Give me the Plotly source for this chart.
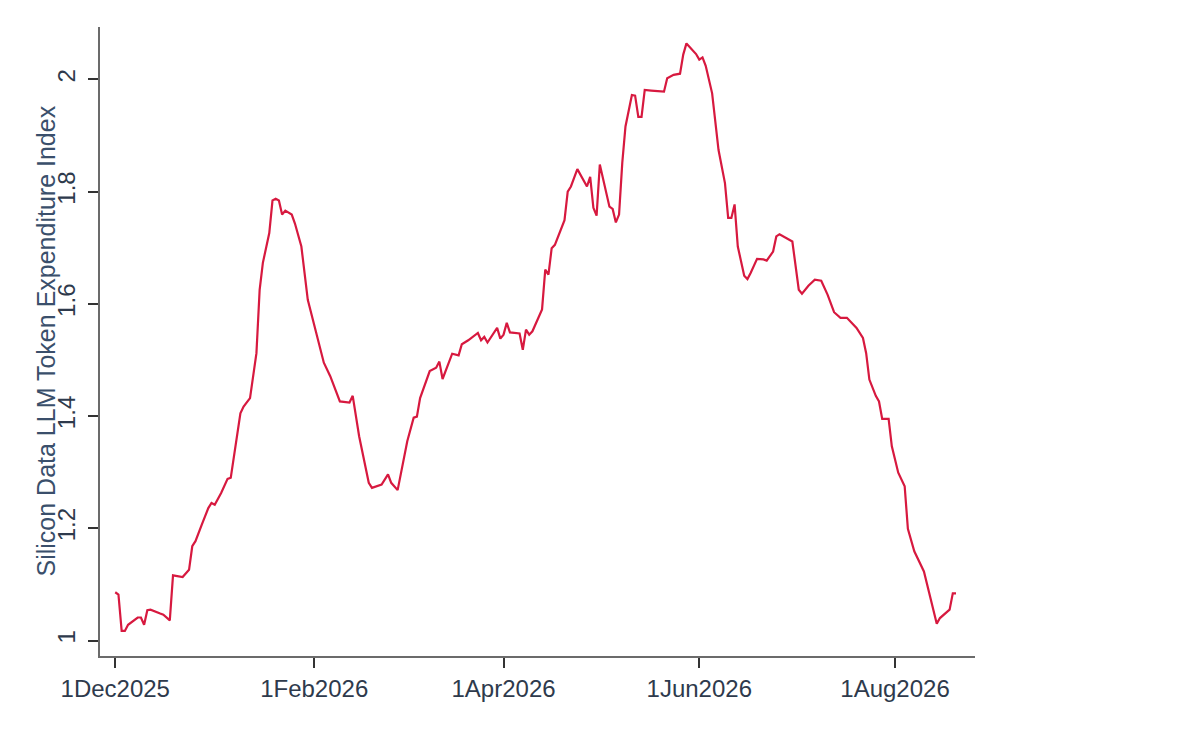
import plotly.graph_objs as go

# daily index readings
dates = [
    "2025-12-01", "2025-12-02", "2025-12-03", "2025-12-04", "2025-12-05", "2025-12-08",
    "2025-12-09", "2025-12-10", "2025-12-11", "2025-12-12", "2025-12-15", "2025-12-16",
    "2025-12-18", "2025-12-19", "2025-12-22", "2025-12-24", "2025-12-25", "2025-12-26",
    "2025-12-28", "2025-12-30", "2025-12-31", "2026-01-01", "2026-01-03", "2026-01-05",
    "2026-01-06", "2026-01-07", "2026-01-09", "2026-01-10", "2026-01-12", "2026-01-14",
    "2026-01-15", "2026-01-16", "2026-01-18", "2026-01-19", "2026-01-20", "2026-01-21",
    "2026-01-22", "2026-01-23", "2026-01-25", "2026-01-26", "2026-01-28", "2026-01-30",
    "2026-02-01", "2026-02-04", "2026-02-06", "2026-02-09", "2026-02-12", "2026-02-13",
    "2026-02-15", "2026-02-18", "2026-02-19", "2026-02-22", "2026-02-24", "2026-02-25",
    "2026-02-27", "2026-03-02", "2026-03-04", "2026-03-05", "2026-03-06", "2026-03-09",
    "2026-03-11", "2026-03-12", "2026-03-13", "2026-03-16", "2026-03-18", "2026-03-19",
    "2026-03-21", "2026-03-24", "2026-03-25", "2026-03-26", "2026-03-27", "2026-03-30",
    "2026-03-31", "2026-04-01", "2026-04-02", "2026-04-03", "2026-04-06", "2026-04-07",
    "2026-04-08", "2026-04-09", "2026-04-10", "2026-04-12", "2026-04-13", "2026-04-14",
    "2026-04-15", "2026-04-16", "2026-04-17", "2026-04-20", "2026-04-21", "2026-04-22",
    "2026-04-24", "2026-04-27", "2026-04-28", "2026-04-29", "2026-04-30", "2026-05-01",
    "2026-05-04", "2026-05-05", "2026-05-06", "2026-05-07", "2026-05-08", "2026-05-09",
    "2026-05-11", "2026-05-12", "2026-05-13", "2026-05-14", "2026-05-15", "2026-05-17",
    "2026-05-21", "2026-05-22", "2026-05-24", "2026-05-26", "2026-05-27", "2026-05-28",
    "2026-05-29", "2026-05-31", "2026-06-01", "2026-06-02", "2026-06-03", "2026-06-05",
    "2026-06-07", "2026-06-09", "2026-06-10", "2026-06-11", "2026-06-12", "2026-06-13",
    "2026-06-15", "2026-06-16", "2026-06-17", "2026-06-19", "2026-06-21", "2026-06-22",
    "2026-06-24", "2026-06-25", "2026-06-26", "2026-06-28", "2026-06-30", "2026-07-02",
    "2026-07-03", "2026-07-05", "2026-07-07", "2026-07-09", "2026-07-11", "2026-07-13",
    "2026-07-15", "2026-07-17", "2026-07-18", "2026-07-20", "2026-07-22", "2026-07-23",
    "2026-07-24", "2026-07-26", "2026-07-27", "2026-07-28", "2026-07-30", "2026-07-31",
    "2026-08-02", "2026-08-04", "2026-08-05", "2026-08-06", "2026-08-07", "2026-08-10",
    "2026-08-12", "2026-08-14", "2026-08-15", "2026-08-18", "2026-08-19", "2026-08-20",
]

index_values = [
    1.086, 1.082, 1.017, 1.017, 1.028, 1.041,
    1.041, 1.028, 1.054, 1.055, 1.048, 1.046,
    1.036, 1.116, 1.113, 1.126, 1.168, 1.177,
    1.207, 1.236, 1.245, 1.242, 1.263, 1.288,
    1.290, 1.328, 1.405, 1.417, 1.432, 1.512,
    1.625, 1.673, 1.726, 1.784, 1.787, 1.784,
    1.759, 1.766, 1.759, 1.743, 1.702, 1.607,
    1.560, 1.495, 1.471, 1.426, 1.424, 1.436,
    1.364, 1.281, 1.272, 1.278, 1.296, 1.281,
    1.268, 1.355, 1.397, 1.399, 1.432, 1.480,
    1.486, 1.497, 1.466, 1.511, 1.508, 1.528,
    1.535, 1.548, 1.535, 1.541, 1.531, 1.557,
    1.538, 1.545, 1.566, 1.549, 1.547, 1.518,
    1.554, 1.545, 1.551, 1.575, 1.590, 1.661,
    1.652, 1.699, 1.705, 1.749, 1.800, 1.809,
    1.840, 1.809, 1.826, 1.771, 1.757, 1.848,
    1.773, 1.769, 1.745, 1.759, 1.851, 1.916,
    1.972, 1.971, 1.933, 1.933, 1.981, 1.980,
    1.978, 2.002, 2.008, 2.010, 2.044, 2.064,
    2.057, 2.045, 2.035, 2.039, 2.024, 1.975,
    1.874, 1.815, 1.753, 1.753, 1.777, 1.702,
    1.650, 1.644, 1.655, 1.680, 1.679, 1.677,
    1.693, 1.720, 1.724, 1.717, 1.711, 1.625,
    1.618, 1.632, 1.643, 1.641, 1.616, 1.585,
    1.575, 1.575, 1.569, 1.557, 1.539, 1.512,
    1.465, 1.436, 1.426, 1.395, 1.395, 1.346,
    1.299, 1.275, 1.199, 1.177, 1.159, 1.123,
    1.076, 1.030, 1.040, 1.055, 1.084, 1.084,
]

x_tick_dates = ["2025-12-01", "2026-02-01", "2026-04-01", "2026-06-01", "2026-08-01"]
x_tick_labels = ["1Dec2025", "1Feb2026", "1Apr2026", "1Jun2026", "1Aug2026"]
y_tick_values = [1, 1.2, 1.4, 1.6, 1.8, 2]
y_tick_labels = ["1", "1.2", "1.4", "1.6", "1.8", "2"]
y_title = "Silicon Data LLM Token Expenditure Index"

FONT = "Arial, Liberation Sans, sans-serif"
AXIS_GREY = "#6b6b6b"

fig = go.Figure()
fig.add_trace(go.Scatter(
    x=dates, y=index_values, mode="lines",
    line=dict(color="#d7193f", width=2.2),
    showlegend=False, hoverinfo="x+y",
))

# page body has an 8px margin, so the plot box is pulled up/left by that much
fig.update_layout(
    width=1194, height=732,
    paper_bgcolor="white", plot_bgcolor="white",
    margin=dict(l=92, r=227, t=19, b=84),
    font=dict(family=FONT, size=24, color="#2e3a4c"),
    xaxis=dict(
        range=["2025-11-26 06:00", "2026-08-25 22:00"],
        tickmode="array", tickvals=x_tick_dates, ticktext=x_tick_labels,
        showgrid=False, zeroline=False,
        showline=True, linecolor=AXIS_GREY, linewidth=2,
        ticks="outside", ticklen=10, tickwidth=2, tickcolor="#333333",
        ticklabelstandoff=0,
    ),
    yaxis=dict(
        range=[0.9724, 2.0932],
        tickmode="array", tickvals=y_tick_values, ticktext=y_tick_labels,
        tickangle=-90,
        showgrid=False, zeroline=False,
        showline=True, linecolor=AXIS_GREY, linewidth=2,
        ticks="outside", ticklen=10, tickwidth=2, tickcolor="#333333",
        ticklabelstandoff=3,
    ),
    annotations=[dict(
        text=y_title, textangle=-90,
        xref="paper", yref="paper", x=0, y=0.5,
        xanchor="center", yanchor="middle", xshift=-55,
        showarrow=False,
        font=dict(family=FONT, size=25, color="#3a4f6b"),
    )],
)

fig.write_html("out.html")
